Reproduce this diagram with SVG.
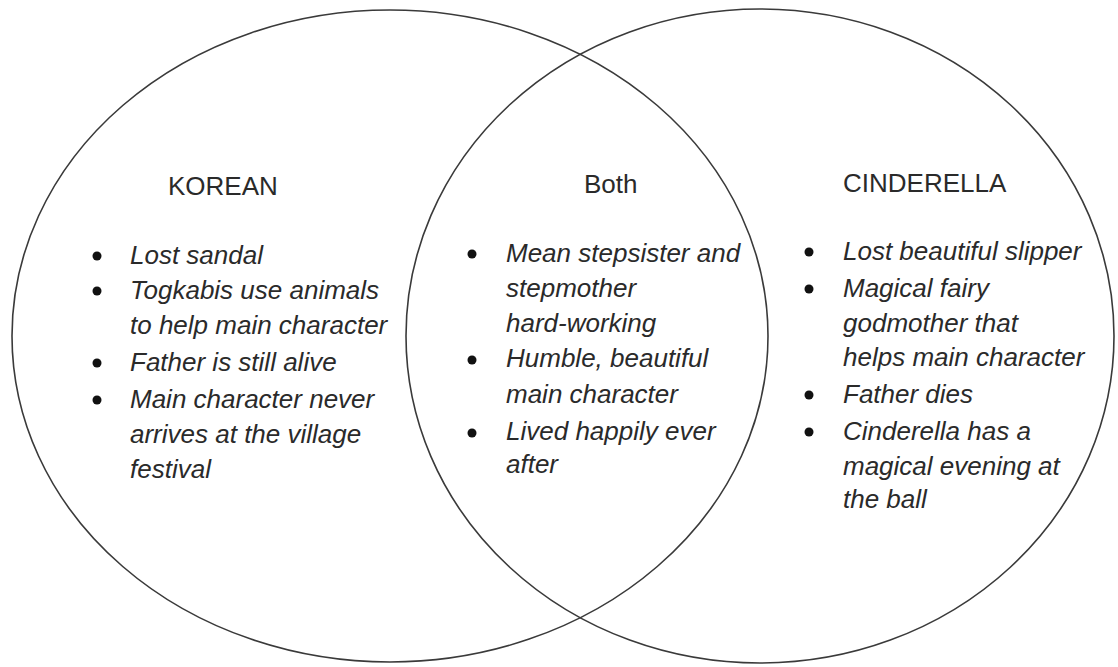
<svg xmlns="http://www.w3.org/2000/svg" width="1118" height="667" viewBox="0 0 1118 667">
<style>
.ring{fill:none;stroke:#3a3a3a;stroke-width:1.6}
.hd{font-family:"Liberation Sans",Arial,sans-serif;font-size:26px;fill:#2a2a2a}
.it{font-family:"Liberation Sans",Arial,sans-serif;font-size:26px;font-style:italic;fill:#2a2a2a}
.dot{fill:#111}
</style>
<rect width="1118" height="667" fill="#fff"/>
<g id="korean">
<ellipse class="ring" cx="390" cy="336" rx="378" ry="326"/>
<text class="hd" x="168" y="195">KOREAN</text>
<circle class="dot" cx="97" cy="256" r="4.5"/>
<circle class="dot" cx="97" cy="291" r="4.5"/>
<circle class="dot" cx="97" cy="363" r="4.5"/>
<circle class="dot" cx="97" cy="400" r="4.5"/>
<text class="it" x="130" y="264">Lost sandal</text>
<text class="it" x="130" y="299">Togkabis use animals</text>
<text class="it" x="130" y="334">to help main character</text>
<text class="it" x="130" y="371">Father is still alive</text>
<text class="it" x="130" y="408">Main character never</text>
<text class="it" x="130" y="443">arrives at the village</text>
<text class="it" x="130" y="478">festival</text>
</g>
<g id="cinderella">
<ellipse class="ring" cx="760" cy="336" rx="354" ry="327"/>
<text class="hd" x="843" y="192">CINDERELLA</text>
<circle class="dot" cx="809" cy="252" r="4.5"/>
<circle class="dot" cx="809" cy="289" r="4.5"/>
<circle class="dot" cx="809" cy="395" r="4.5"/>
<circle class="dot" cx="809" cy="432" r="4.5"/>
<text class="it" x="843" y="260">Lost beautiful slipper</text>
<text class="it" x="843" y="297">Magical fairy</text>
<text class="it" x="843" y="332">godmother that</text>
<text class="it" x="843" y="366">helps main character</text>
<text class="it" x="843" y="403">Father dies</text>
<text class="it" x="843" y="440">Cinderella has a</text>
<text class="it" x="843" y="475">magical evening at</text>
<text class="it" x="843" y="508">the ball</text>
</g>
<g id="both">
<text class="hd" x="584" y="193">Both</text>
<circle class="dot" cx="472" cy="254" r="4.5"/>
<circle class="dot" cx="472" cy="360" r="4.5"/>
<circle class="dot" cx="472" cy="433" r="4.5"/>
<text class="it" x="506" y="262">Mean stepsister and</text>
<text class="it" x="506" y="297">stepmother</text>
<text class="it" x="506" y="332">hard-working</text>
<text class="it" x="506" y="367">Humble, beautiful</text>
<text class="it" x="506" y="403">main character</text>
<text class="it" x="506" y="440">Lived happily ever</text>
<text class="it" x="506" y="473">after</text>
</g>
<g id="connectors"></g>
</svg>
